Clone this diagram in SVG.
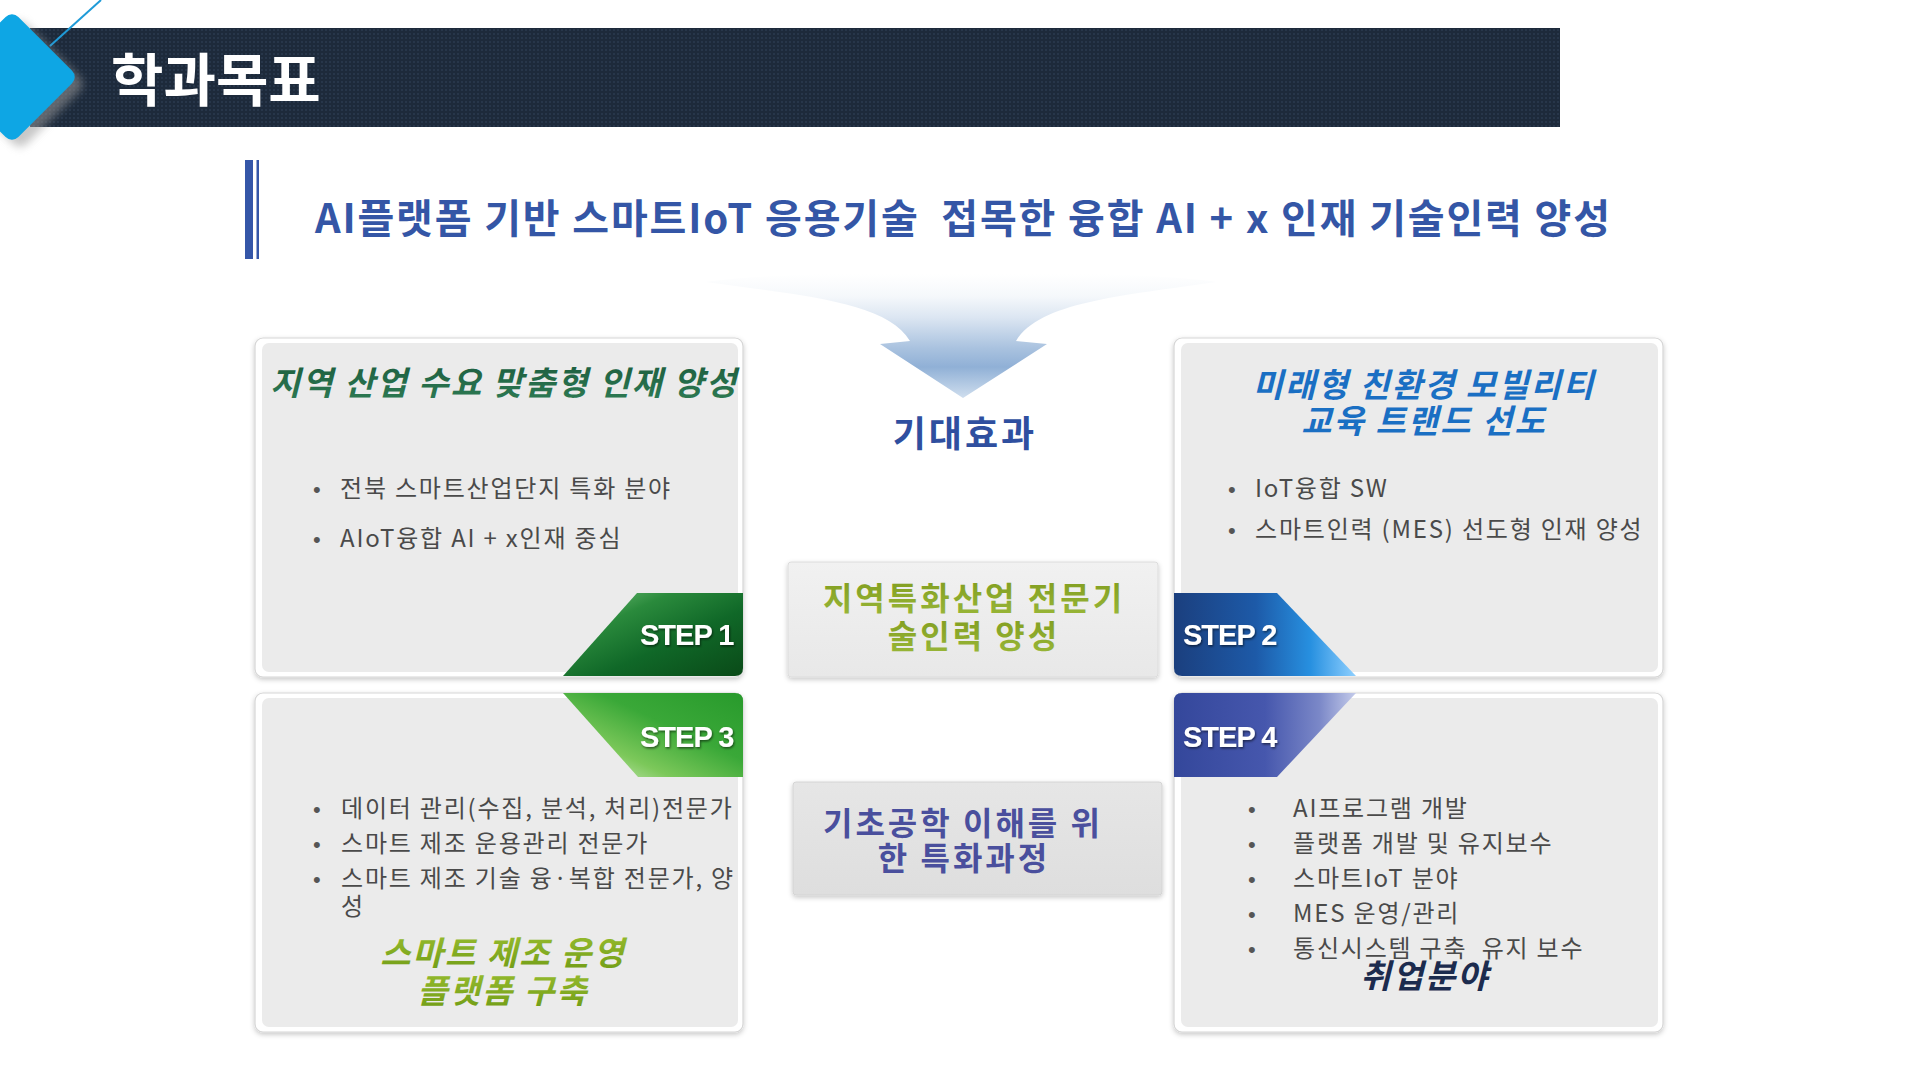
<svg xmlns="http://www.w3.org/2000/svg" width="1920" height="1080" viewBox="0 0 1920 1080">
  <defs>
    <style>
      .kr { font-family: "Noto Sans CJK KR", "Noto Sans", sans-serif; }
      .title { font-family: "Noto Sans CJK KR", sans-serif; font-weight: 700; font-size: 57px; fill: #ffffff; }
      .sub { font-family: "Noto Sans CJK KR", sans-serif; font-weight: 700; font-size: 40px; fill: #3456a6; white-space: pre; }
      .ptitle { font-family: "Noto Sans CJK KR", sans-serif; font-weight: 700; font-style: italic; font-size: 33px; text-anchor: middle; letter-spacing: 2px; }
      .bul { font-family: "Noto Sans CJK KR", sans-serif; font-size: 24px; fill: #4a4a4a; letter-spacing: 1.8px; white-space: pre; }
      .dot { font-family: "Liberation Sans", Arial, sans-serif; font-size: 22px; fill: #555555; }
      .cbox { font-family: "Noto Sans CJK KR", sans-serif; font-weight: 700; font-size: 32px; text-anchor: middle; letter-spacing: 3px; }
      .step { font-family: "Liberation Sans", Arial, sans-serif; font-weight: 700; font-size: 29px; fill: #ffffff; letter-spacing: -1px; }
      .outer { fill: #ffffff; stroke: #d6d6d6; stroke-width: 1.2; }
      .inner { fill: #ebebeb; }
    </style>
    <pattern id="dots" width="4" height="4" patternUnits="userSpaceOnUse">
      <rect width="4" height="4" fill="#1d2a3b"/>
      <circle cx="2" cy="2" r="0.75" fill="#34485f"/>
    </pattern>
    <filter id="shadow" x="-10%" y="-10%" width="120%" height="130%">
      <feDropShadow dx="0" dy="2" stdDeviation="2.5" flood-color="#000000" flood-opacity="0.22"/>
    </filter>
    <filter id="blur4" x="-30%" y="-30%" width="160%" height="160%">
      <feGaussianBlur stdDeviation="4"/>
    </filter>
    <filter id="tshadow" x="-10%" y="-20%" width="120%" height="150%">
      <feDropShadow dx="1" dy="1.5" stdDeviation="1.2" flood-color="#000000" flood-opacity="0.55"/>
    </filter>
    <linearGradient id="funnelGrad" gradientUnits="userSpaceOnUse" x1="0" y1="274" x2="0" y2="398">
      <stop offset="0" stop-color="#ffffff"/>
      <stop offset="0.18" stop-color="#f5f8fb"/>
      <stop offset="0.35" stop-color="#dce6f2"/>
      <stop offset="0.6" stop-color="#a9c2df"/>
      <stop offset="0.75" stop-color="#90b0d6"/>
      <stop offset="1" stop-color="#cfdeee"/>
    </linearGradient>
    <linearGradient id="box1Grad" x1="0" y1="0" x2="0" y2="1">
      <stop offset="0" stop-color="#f1f1f1"/>
      <stop offset="1" stop-color="#e8e8e8"/>
    </linearGradient>
    <linearGradient id="box2Grad" x1="0" y1="0" x2="0" y2="1">
      <stop offset="0" stop-color="#e6e6e6"/>
      <stop offset="1" stop-color="#dedede"/>
    </linearGradient>
    <linearGradient id="g1" x1="0" y1="0" x2="1" y2="1">
      <stop offset="0" stop-color="#7cc880"/>
      <stop offset="0.3" stop-color="#2a8a3c"/>
      <stop offset="0.6" stop-color="#106828"/>
      <stop offset="1" stop-color="#0a4a18"/>
    </linearGradient>
    <linearGradient id="g2" x1="0" y1="0" x2="1" y2="0">
      <stop offset="0" stop-color="#1b3f7e"/>
      <stop offset="0.45" stop-color="#1d5aa8"/>
      <stop offset="0.75" stop-color="#2790e0"/>
      <stop offset="1" stop-color="#8fd0ff"/>
    </linearGradient>
    <linearGradient id="g3" x1="0" y1="1" x2="1" y2="0">
      <stop offset="0" stop-color="#e2f2d6"/>
      <stop offset="0.3" stop-color="#7cc85a"/>
      <stop offset="0.6" stop-color="#3aa838"/>
      <stop offset="1" stop-color="#289a2c"/>
    </linearGradient>
    <linearGradient id="g4" x1="0" y1="0" x2="1" y2="0">
      <stop offset="0" stop-color="#34479b"/>
      <stop offset="0.5" stop-color="#4657ad"/>
      <stop offset="0.8" stop-color="#7b88c8"/>
      <stop offset="1" stop-color="#c4cbea"/>
    </linearGradient>
    <linearGradient id="tl" x1="0" y1="0" x2="0" y2="1">
      <stop offset="0" stop-color="#1b5a3c"/>
      <stop offset="1" stop-color="#2f7d55"/>
    </linearGradient>
    <linearGradient id="bl" x1="0" y1="0" x2="0" y2="1">
      <stop offset="0" stop-color="#9cc032"/>
      <stop offset="1" stop-color="#6e9a14"/>
    </linearGradient>
    <linearGradient id="c1t" x1="0" y1="0" x2="0" y2="1">
      <stop offset="0" stop-color="#7e9a1c"/>
      <stop offset="1" stop-color="#9ab83a"/>
    </linearGradient>
  </defs>

  <rect width="1920" height="1080" fill="#ffffff"/>

  <!-- Header -->
  <g id="header">
    <rect x="30" y="28" width="1530" height="99" fill="url(#dots)"/>
    <line x1="50" y1="46" x2="101" y2="0" stroke="#1f9bd8" stroke-width="2"/>
    <rect x="-47" y="-47" width="94" height="94" rx="9" transform="translate(20,84) rotate(45)" fill="#9a9a9a" opacity="0.55" filter="url(#blur4)"/>
    <rect x="-47" y="-47" width="94" height="94" rx="9" transform="translate(12,77) rotate(45)" fill="#0ea6e4"/>
    <text class="title" x="111" y="101">학과목표</text>
  </g>

  <!-- Subtitle -->
  <g id="subtitle">
    <rect x="245" y="160" width="8" height="99" fill="#3556a8"/>
    <rect x="256.5" y="160" width="2.5" height="99" fill="#3556a8"/>
    <text class="sub" x="315" y="233" textLength="1295">AI플랫폼 기반 스마트IoT 응용기술  접목한 융합 AI + x 인재 기술인력 양성</text>
  </g>

  <!-- Connectors: funnel arrow -->
  <g id="connectors">
    <path d="M 706,282 C 800,268 1120,268 1216,282 C 1120,296 1040,302 1016,341 L 1047,344 L 963,398 L 880,344 L 910,341 C 886,302 806,296 706,282 Z" fill="url(#funnelGrad)"/>
  </g>

  <g id="expect-label">
    <text class="kr" x="965" y="447" font-size="36" font-weight="700" fill="#2f4f9f" text-anchor="middle" letter-spacing="3">기대효과</text>
  </g>

  <!-- Panel 1 (top-left) -->
  <g id="panel-1">
    <rect class="outer" x="255" y="338" width="488" height="339" rx="8" filter="url(#shadow)"/>
    <rect class="inner" x="262" y="343" width="476" height="329" rx="7"/>
    <text class="ptitle" x="504" y="395" fill="url(#tl)">지역 산업 수요 맞춤형 인재 양성</text>
    <text class="dot" x="313" y="497">•</text>
    <text class="bul" x="340" y="497">전북 스마트산업단지 특화 분야</text>
    <text class="dot" x="313" y="547">•</text>
    <text class="bul" x="340" y="547">AIoT융합 AI + x인재 중심</text>
  </g>
  <g id="step-1">
    <path d="M 563,676 L 637,593 L 743,593 L 743,668 Q 743,676 735,676 Z" fill="url(#g1)"/>
    <text class="step" x="640" y="645" filter="url(#tshadow)">STEP 1</text>
  </g>

  <!-- Panel 2 (top-right) -->
  <g id="panel-2">
    <rect class="outer" x="1174" y="338" width="489" height="339" rx="8" filter="url(#shadow)"/>
    <rect class="inner" x="1181" y="343" width="477" height="329" rx="7"/>
    <text class="ptitle" x="1424" y="397" fill="#1a6fc3">미래형 친환경 모빌리티</text>
    <text class="ptitle" x="1424" y="433" fill="#1a6fc3">교육 트랜드 선도</text>
    <text class="dot" x="1228" y="497">•</text>
    <text class="bul" x="1255" y="497">IoT융합 SW</text>
    <text class="dot" x="1228" y="538">•</text>
    <text class="bul" x="1255" y="538">스마트인력 (MES) 선도형 인재 양성</text>
  </g>
  <g id="step-2">
    <path d="M 1174,593 L 1277,593 L 1356,676 L 1182,676 Q 1174,676 1174,668 Z" fill="url(#g2)"/>
    <text class="step" x="1183" y="645" filter="url(#tshadow)">STEP 2</text>
  </g>

  <!-- Panel 3 (bottom-left) -->
  <g id="panel-3">
    <rect class="outer" x="255" y="693" width="488" height="339" rx="8" filter="url(#shadow)"/>
    <rect class="inner" x="262" y="698" width="476" height="329" rx="7"/>
    <text class="dot" x="313" y="817">•</text>
    <text class="bul" x="341" y="817">데이터 관리(수집, 분석, 처리)전문가</text>
    <text class="dot" x="313" y="852">•</text>
    <text class="bul" x="341" y="852">스마트 제조 운용관리 전문가</text>
    <text class="dot" x="313" y="887">•</text>
    <text class="bul" x="341" y="887">스마트 제조 기술 융·복합 전문가, 양</text>
    <text class="bul" x="341" y="915">성</text>
    <text class="ptitle" x="503" y="965" fill="url(#bl)">스마트 제조 운영</text>
    <text class="ptitle" x="503" y="1003" fill="url(#bl)">플랫폼 구축</text>
  </g>
  <g id="step-3">
    <path d="M 563,693 L 735,693 Q 743,693 743,701 L 743,777 L 638,777 Z" fill="url(#g3)"/>
    <text class="step" x="640" y="747" filter="url(#tshadow)">STEP 3</text>
  </g>

  <!-- Panel 4 (bottom-right) -->
  <g id="panel-4">
    <rect class="outer" x="1174" y="693" width="489" height="339" rx="8" filter="url(#shadow)"/>
    <rect class="inner" x="1181" y="698" width="477" height="329" rx="7"/>
    <text class="dot" x="1248" y="817">•</text>
    <text class="bul" x="1293" y="817">AI프로그램 개발</text>
    <text class="dot" x="1248" y="852">•</text>
    <text class="bul" x="1293" y="852">플랫폼 개발 및 유지보수</text>
    <text class="dot" x="1248" y="887">•</text>
    <text class="bul" x="1293" y="887">스마트IoT 분야</text>
    <text class="dot" x="1248" y="922">•</text>
    <text class="bul" x="1293" y="922">MES 운영/관리</text>
    <text class="dot" x="1248" y="957">•</text>
    <text class="bul" x="1293" y="957">통신시스템 구축  유지 보수</text>
    <text class="ptitle" x="1425" y="988" fill="#1c2b4e" letter-spacing="3">취업분야</text>
  </g>
  <g id="step-4">
    <path d="M 1182,693 L 1356,693 L 1277,777 L 1174,777 L 1174,701 Q 1174,693 1182,693 Z" fill="url(#g4)"/>
    <text class="step" x="1183" y="747" filter="url(#tshadow)">STEP 4</text>
  </g>

  <!-- Center boxes -->
  <g id="center-box-1">
    <rect x="788" y="562" width="370" height="115" rx="3" fill="url(#box1Grad)" stroke="#dcdcdc" stroke-width="1" filter="url(#shadow)"/>
    <text class="cbox" x="974" y="610" fill="url(#c1t)">지역특화산업 전문기</text>
    <text class="cbox" x="974" y="648" fill="url(#c1t)">술인력 양성</text>
  </g>
  <g id="center-box-2">
    <rect x="793" y="782" width="369" height="113" rx="3" fill="url(#box2Grad)" stroke="#d4d4d4" stroke-width="1" filter="url(#shadow)"/>
    <text class="cbox" x="963" y="835" fill="#4a4f9d">기초공학 이해를 위</text>
    <text class="cbox" x="964" y="870" fill="#4a4f9d">한 특화과정</text>
  </g>
</svg>
